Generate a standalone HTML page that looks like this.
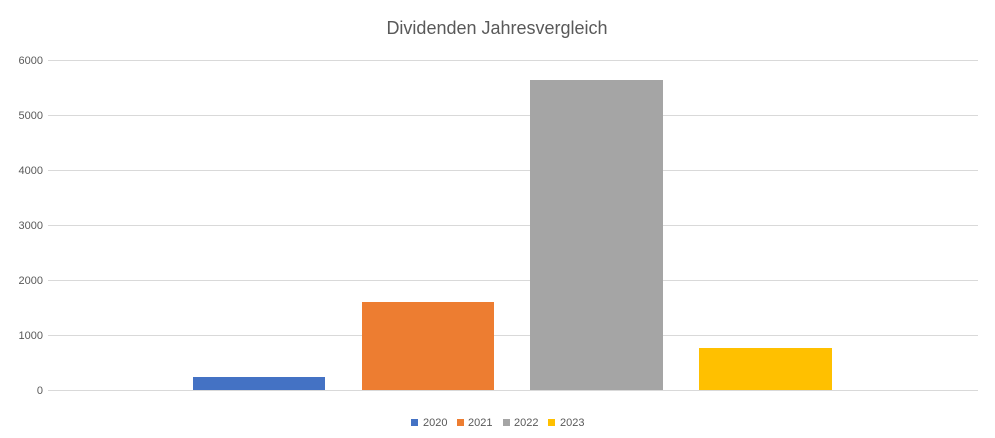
<!DOCTYPE html>
<html><head><style>
body{margin:0;background:#fff;font-family:"Liberation Sans",sans-serif;}
</style></head><body>
<svg width="995" height="433" xmlns="http://www.w3.org/2000/svg" font-family="Liberation Sans, sans-serif">
<rect width="995" height="433" fill="#fff"/>
<text x="497" y="34" text-anchor="middle" font-size="18" fill="#595959">Dividenden Jahresvergleich</text>
<g stroke="#d9d9d9" stroke-width="1">
<line x1="48" x2="978" y1="60.5" y2="60.5"/>
<line x1="48" x2="978" y1="115.5" y2="115.5"/>
<line x1="48" x2="978" y1="170.5" y2="170.5"/>
<line x1="48" x2="978" y1="225.5" y2="225.5"/>
<line x1="48" x2="978" y1="280.5" y2="280.5"/>
<line x1="48" x2="978" y1="335.5" y2="335.5"/>
<line x1="48" x2="978" y1="390.5" y2="390.5"/>
</g>
<g font-size="11" fill="#595959" text-anchor="end">
<text x="43" y="64">6000</text>
<text x="43" y="119">5000</text>
<text x="43" y="174">4000</text>
<text x="43" y="229">3000</text>
<text x="43" y="284">2000</text>
<text x="43" y="339">1000</text>
<text x="43" y="394">0</text>
</g>
<rect x="193" y="377" width="132" height="13" fill="#4472c4"/>
<rect x="362" y="302" width="132" height="88" fill="#ed7d31"/>
<rect x="530" y="80" width="133" height="310" fill="#a5a5a5"/>
<rect x="699" y="348" width="133" height="42" fill="#ffc000"/>
<g font-size="11" fill="#595959">
<rect x="411" y="419" width="7" height="7" fill="#4472c4"/><text x="423" y="426">2020</text>
<rect x="457" y="419" width="7" height="7" fill="#ed7d31"/><text x="468" y="426">2021</text>
<rect x="503" y="419" width="7" height="7" fill="#a5a5a5"/><text x="514" y="426">2022</text>
<rect x="548" y="419" width="7" height="7" fill="#ffc000"/><text x="560" y="426">2023</text>
</g>
</svg>
</body></html>
